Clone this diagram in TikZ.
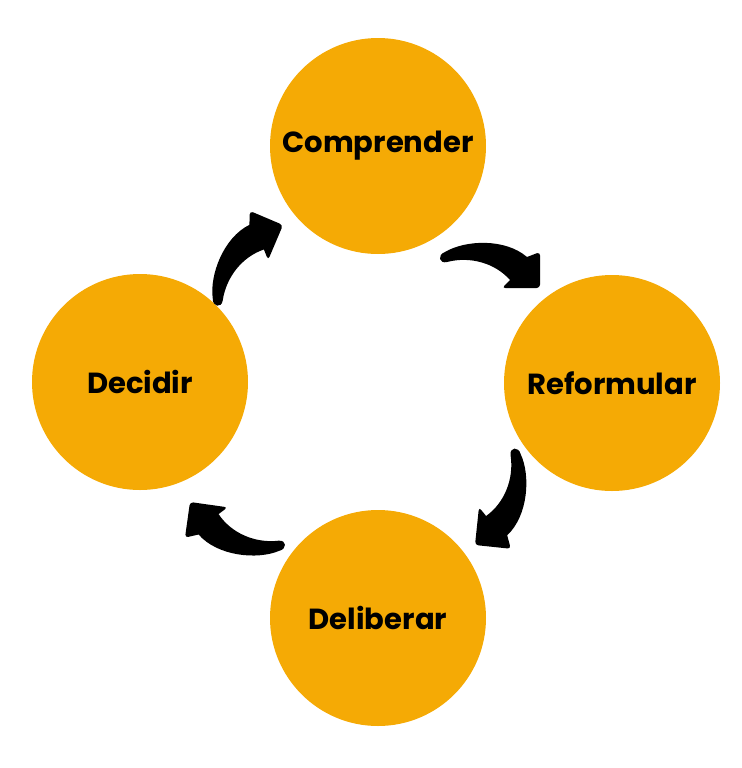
\documentclass[tikz,border=0pt]{standalone}
\usepackage{fontspec}
\setmainfont{Poppins}
\usepackage{xcolor}
\usepackage{tikz}
\definecolor{stepOrange}{HTML}{F5AA05}
\newcommand{\stepRadius}{108}
\newcommand{\stepFont}{\fontsize{21.8}{26}\selectfont\bfseries}
\newcommand{\stepNames}{378/146/comprender/Comprender, 612/383/reformular/Reformular, 378/618/deliberar/Deliberar, 140/382/decidir/Decidir}
\newcommand{\arrowPlaces}{540/288/0, 475/545/-96, 190/502/172, 283/225/67}

\begin{document}
\begin{tikzpicture}[x=0.75pt,y=-0.75pt]
	\useasboundingbox (0,0) rectangle (742,768);

	% orange step circles
	\foreach \cx/\cy/\id/\name in \stepNames
	{
		\fill[stepOrange] (\cx,\cy) circle [radius=\stepRadius];
		\node[font=\stepFont, text=black] (\id) at (\cx,\cy) {\name};
	}

	% curved arrows between the steps
	\foreach \px/\py/\angle in \arrowPlaces
	{
		\fill[black, shift={(\px,\py)}, rotate=\angle] (-95,-36) .. controls (-75,-48) and (-35,-50) .. (-13,-31) [rounded corners=2.5pt] -- (0,-36) -- (0,0) -- (-38,0) [sharp corners] -- (-30,-8) .. controls (-45,-25) and (-70,-32) .. (-93,-26) .. controls (-101,-24) and (-103,-33) .. cycle;
	}
\end{tikzpicture}
\end{document}
